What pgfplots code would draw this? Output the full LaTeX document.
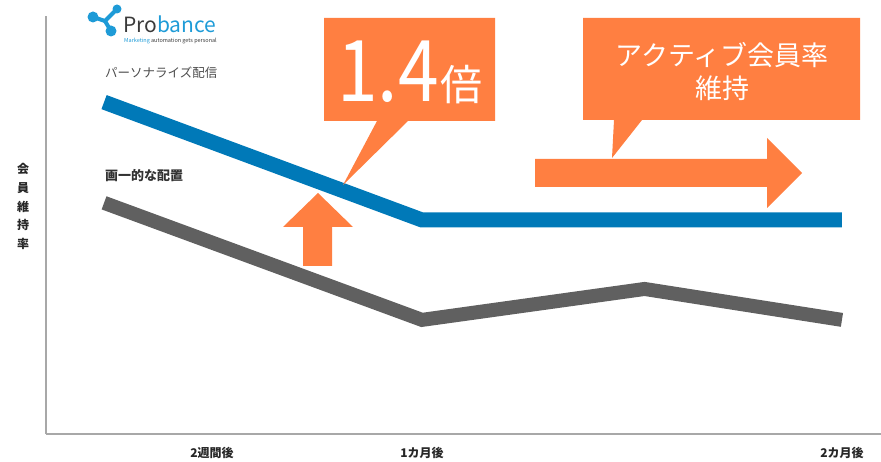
\documentclass[border=0pt]{standalone}
\usepackage{fontspec}
\setmainfont{Noto Sans CJK JP}
\usepackage{graphicx}
\usepackage{pgfplots}
\pgfplotsset{compat=1.18}
\definecolor{pblue}{HTML}{0079B8}
\definecolor{pgray}{HTML}{606060}
\definecolor{porange}{HTML}{FF7F41}
\definecolor{axgray}{HTML}{A8A8A8}
\definecolor{logoblue}{HTML}{1E9BD7}
\definecolor{logogray}{HTML}{3A3A3A}
\begin{document}
\begin{tikzpicture}
\useasboundingbox (0,0) rectangle (881pt,461pt);
\begin{axis}[
  at={(46pt,27pt)}, anchor=south west,
  scale only axis, width=835pt, height=418pt,
  xmin=0.2095, xmax=4.186, ymin=0, ymax=100,
  axis x line=bottom, axis y line=left,
  axis line style={-, draw=axgray, line width=2.5pt},
  xtick={1,2,4}, xticklabels={2週間後,1カ月後,2カ月後},
  ytick=\empty,
  major tick length=0pt,
  xticklabel style={font=\fontsize{12}{12}\selectfont\bfseries, text=black!85, anchor=center, yshift=-19pt},
  ylabel={会\\員\\維\\持\\率},
  ylabel style={rotate=-90, align=center, font=\fontsize{12}{18.75}\selectfont\bfseries, text=black!85,
    at={(axis description cs:-0.0275,0.544)}, anchor=center},
  clip=false,
]
\addplot[pblue, line width=15pt, line join=miter] coordinates {(0.486,79.4) (2,51.2) (4,51.2)};
\addplot[pgray, line width=14pt, line join=miter] coordinates {(0.486,55.3) (2,27.3) (3.06,34.7) (4,27.3)};
\end{axis}
\begin{scope}[x=1pt,y=-1pt,shift={(0pt,461pt)}]
  % callout 1.4
  \fill[porange] (324,18) -- (495,18) -- (495,121) -- (408,121) -- (343,185) -- (377,121) -- (324,121) -- cycle;
  \node[anchor=base west, inner sep=0pt, text=white] at (337,102)
    {\scalebox{0.86}[1]{\fontsize{85}{85}\selectfont 1.4}};
  \node[anchor=base west, inner sep=0pt, text=white] at (440,101)
    {\fontsize{42}{42}\selectfont 倍};
  % callout active
  \fill[porange] (583,18) -- (860,18) -- (860,120) -- (642,120) -- (612,158) -- (614,120) -- (583,120) -- cycle;
  \node[align=center, text=white, font=\fontsize{27}{33}\selectfont, inner sep=0pt] at (722,71.5)
    {アクティブ会員率\\維持};
  % right arrow
  \fill[porange] (535,159) -- (767,159) -- (767,138) -- (802,173) -- (767,208) -- (767,187) -- (535,187) -- cycle;
  % up arrow
  \fill[porange] (303,266) -- (303,227) -- (283,227) -- (318,193) -- (353,227) -- (332,227) -- (332,266) -- cycle;
  % series labels
  \node[anchor=west, inner sep=0pt, text=black!70, font=\fontsize{12.5}{12.5}\selectfont] at (105,73) {パーソナライズ配信};
  \node[anchor=west, inner sep=0pt, text=black!80, font=\fontsize{13}{13}\selectfont\bfseries] at (105,176) {画一的な配置};
  % logo
  \draw[logoblue, line width=4pt, line cap=round] (93,17) -- (105,21) -- (117,9);
  \draw[logoblue, line width=4pt, line cap=round] (105,21) -- (111,31);
  \fill[logoblue] (93,17) circle (5.5);
  \fill[logoblue] (117,9) circle (4.5);
  \fill[logoblue] (111,31) circle (5.5);
  \node[anchor=base west, inner sep=0pt, font=\fontsize{21}{21}\selectfont] at (123,33)
    {{\color{logogray}Pro}{\color{logoblue}bance}};
  \node[anchor=west, inner sep=0pt, font=\fontsize{5.5}{5.5}\selectfont] at (124,41)
    {{\color{logoblue}Marketing} {\color{logogray}automation gets personal}};
\end{scope}
\end{tikzpicture}
\end{document}
